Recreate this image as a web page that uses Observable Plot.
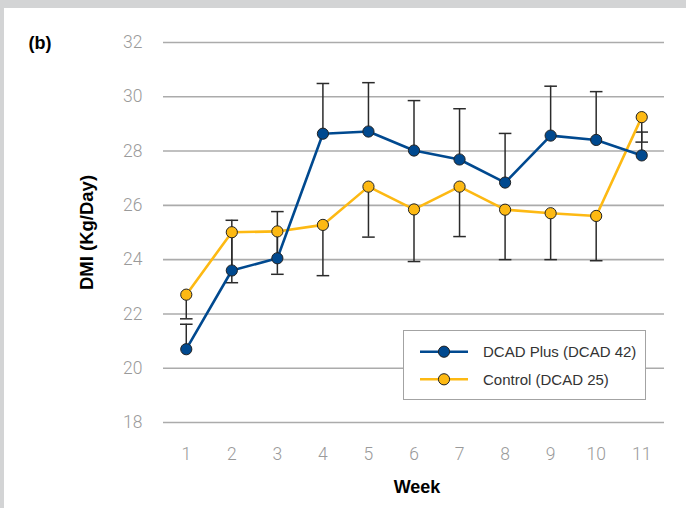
<!DOCTYPE html>
<html>
<head>
<meta charset="utf-8">
<script src="https://cdn.jsdelivr.net/npm/d3@7"></script>
<script src="https://cdn.jsdelivr.net/npm/@observablehq/plot@0.6"></script>
<style>
html,body{margin:0;padding:0;background:#d3d4d5;width:686px;height:508px;overflow:hidden;}
#panel{position:absolute;left:4px;top:8px;width:682px;height:500px;background:#fff;}
#legend{position:absolute;left:399px;top:322px;width:243px;height:70px;box-sizing:border-box;border:1.5px solid #a3a3a3;background:#fff;}
#legend svg{position:absolute;left:-1.5px;top:-1.5px;}
</style>
</head>
<body>
<div id="panel"></div>
<script>
// ---- data ----
const weeks = [1, 2, 3, 4, 5, 6, 7, 8, 9, 10, 11];
const plusMean = [20.70, 23.60, 24.05, 28.64, 28.72, 28.02, 27.69, 26.84, 28.57, 28.41, 27.84];
const plusErr  = [0.92, 1.85, 1.72, 1.85, 1.80, 1.84, 1.87, 1.81, 1.82, 1.78, 0.86];
const ctrlMean = [22.71, 25.01, 25.04, 25.28, 26.69, 25.85, 26.69, 25.84, 25.71, 25.61, 29.25];
const ctrlErr  = [0.89, 1.86, 1.58, 1.87, 1.86, 1.92, 1.84, 1.84, 1.71, 1.65, 0.92];
const yTicks = [18, 20, 22, 24, 26, 28, 30, 32];
const seriesNames = ["DCAD Plus (DCAD 42)", "Control (DCAD 25)"];
const seriesColors = ["#00498f", "#fdb913"];
const panelLabel = "(b)";
const xLabel = "Week";
const yLabel = "DMI (Kg/Day)";

const plus = weeks.map((w, i) => ({week: w, mean: plusMean[i], end: plusMean[i] + plusErr[i]}));
const ctrl = weeks.map((w, i) => ({week: w, mean: ctrlMean[i], end: ctrlMean[i] - ctrlErr[i]}));

const cap = {draw(ctx) { ctx.moveTo(-6.3, 0); ctx.lineTo(6.3, 0); }};
const errColor = "#2b2b2b";
const tickColor = "#9a9a9a";
const tickFont = "Roboto, 'Liberation Sans', sans-serif";

const chart = Plot.plot({
  width: 682,
  height: 500,
  marginLeft: 159,
  marginRight: 22,
  marginTop: 34,
  marginBottom: 86,
  style: {fontFamily: "'Liberation Sans', Arial, sans-serif", background: "transparent", overflow: "visible"},
  x: {type: "linear", domain: [0.5, 11.5]},
  y: {domain: [18, 32]},
  marks: [
    Plot.ruleY(yTicks, {stroke: "#ababab", strokeWidth: 1.6}),
    Plot.axisY({ticks: yTicks, tickSize: 0, tickPadding: 21, fontSize: 17.5, fontFamily: tickFont, fontWeight: 300, fill: tickColor, label: null}),
    Plot.axisX({ticks: weeks, tickSize: 0, tickPadding: 25, fontSize: 17.5, fontFamily: tickFont, fontWeight: 300, fill: tickColor, label: null, tickFormat: d => String(d)}),
    Plot.ruleX(plus, {x: "week", y1: "mean", y2: "end", stroke: errColor, strokeWidth: 1.5}),
    Plot.dot(plus, {x: "week", y: "end", symbol: cap, stroke: errColor, strokeWidth: 1.5, fill: "none"}),
    Plot.ruleX(ctrl, {x: "week", y1: "mean", y2: "end", stroke: errColor, strokeWidth: 1.5}),
    Plot.dot(ctrl, {x: "week", y: "end", symbol: cap, stroke: errColor, strokeWidth: 1.5, fill: "none"}),
    Plot.line(ctrl, {x: "week", y: "mean", stroke: seriesColors[1], strokeWidth: 2.6}),
    Plot.line(plus, {x: "week", y: "mean", stroke: seriesColors[0], strokeWidth: 2.6}),
    Plot.dot(ctrl, {x: "week", y: "mean", r: 5.6, fill: seriesColors[1], stroke: "#222", strokeWidth: 1}),
    Plot.dot(plus, {x: "week", y: "mean", r: 5.6, fill: seriesColors[0], stroke: "#222", strokeWidth: 1}),
    Plot.text([xLabel], {text: d => d, frameAnchor: "bottom", dx: 3, dy: 65, lineAnchor: "middle", textAnchor: "middle", fontSize: 18, fontWeight: "bold", fill: "#000"}),
    Plot.text([yLabel], {text: d => d, frameAnchor: "left", dx: -76.5, rotate: -90, lineAnchor: "middle", textAnchor: "middle", fontSize: 18.5, fontWeight: "bold", fill: "#000"}),
    Plot.text([panelLabel], {text: d => d, frameAnchor: "top-left", dx: -135, dy: 1, lineAnchor: "middle", textAnchor: "start", fontSize: 18, fontWeight: "bold", fill: "#000"})
  ]
});
const panel = document.getElementById("panel");
panel.appendChild(chart);

// ---- legend ----
const leg = d3.select(panel).append("div").attr("id", "legend");
const lsvg = leg.append("svg").attr("width", 243).attr("height", 70)
  .style("font-family", "'Liberation Sans', Arial, sans-serif");
seriesNames.forEach((name, i) => {
  const g = lsvg.append("g").attr("transform", `translate(0,${21.7 + i * 27.6})`);
  g.append("line").attr("x1", 17).attr("x2", 65).attr("y1", 0).attr("y2", 0)
    .attr("stroke", seriesColors[i]).attr("stroke-width", 2.6);
  g.append("circle").attr("cx", 41).attr("cy", 0).attr("r", 5.6)
    .attr("fill", seriesColors[i]).attr("stroke", "#222").attr("stroke-width", 1);
  g.append("text").attr("x", 80).attr("y", 0).attr("dy", "0.35em")
    .attr("font-size", 15).attr("fill", "#333").text(name);
});
</script>
</body>
</html>
